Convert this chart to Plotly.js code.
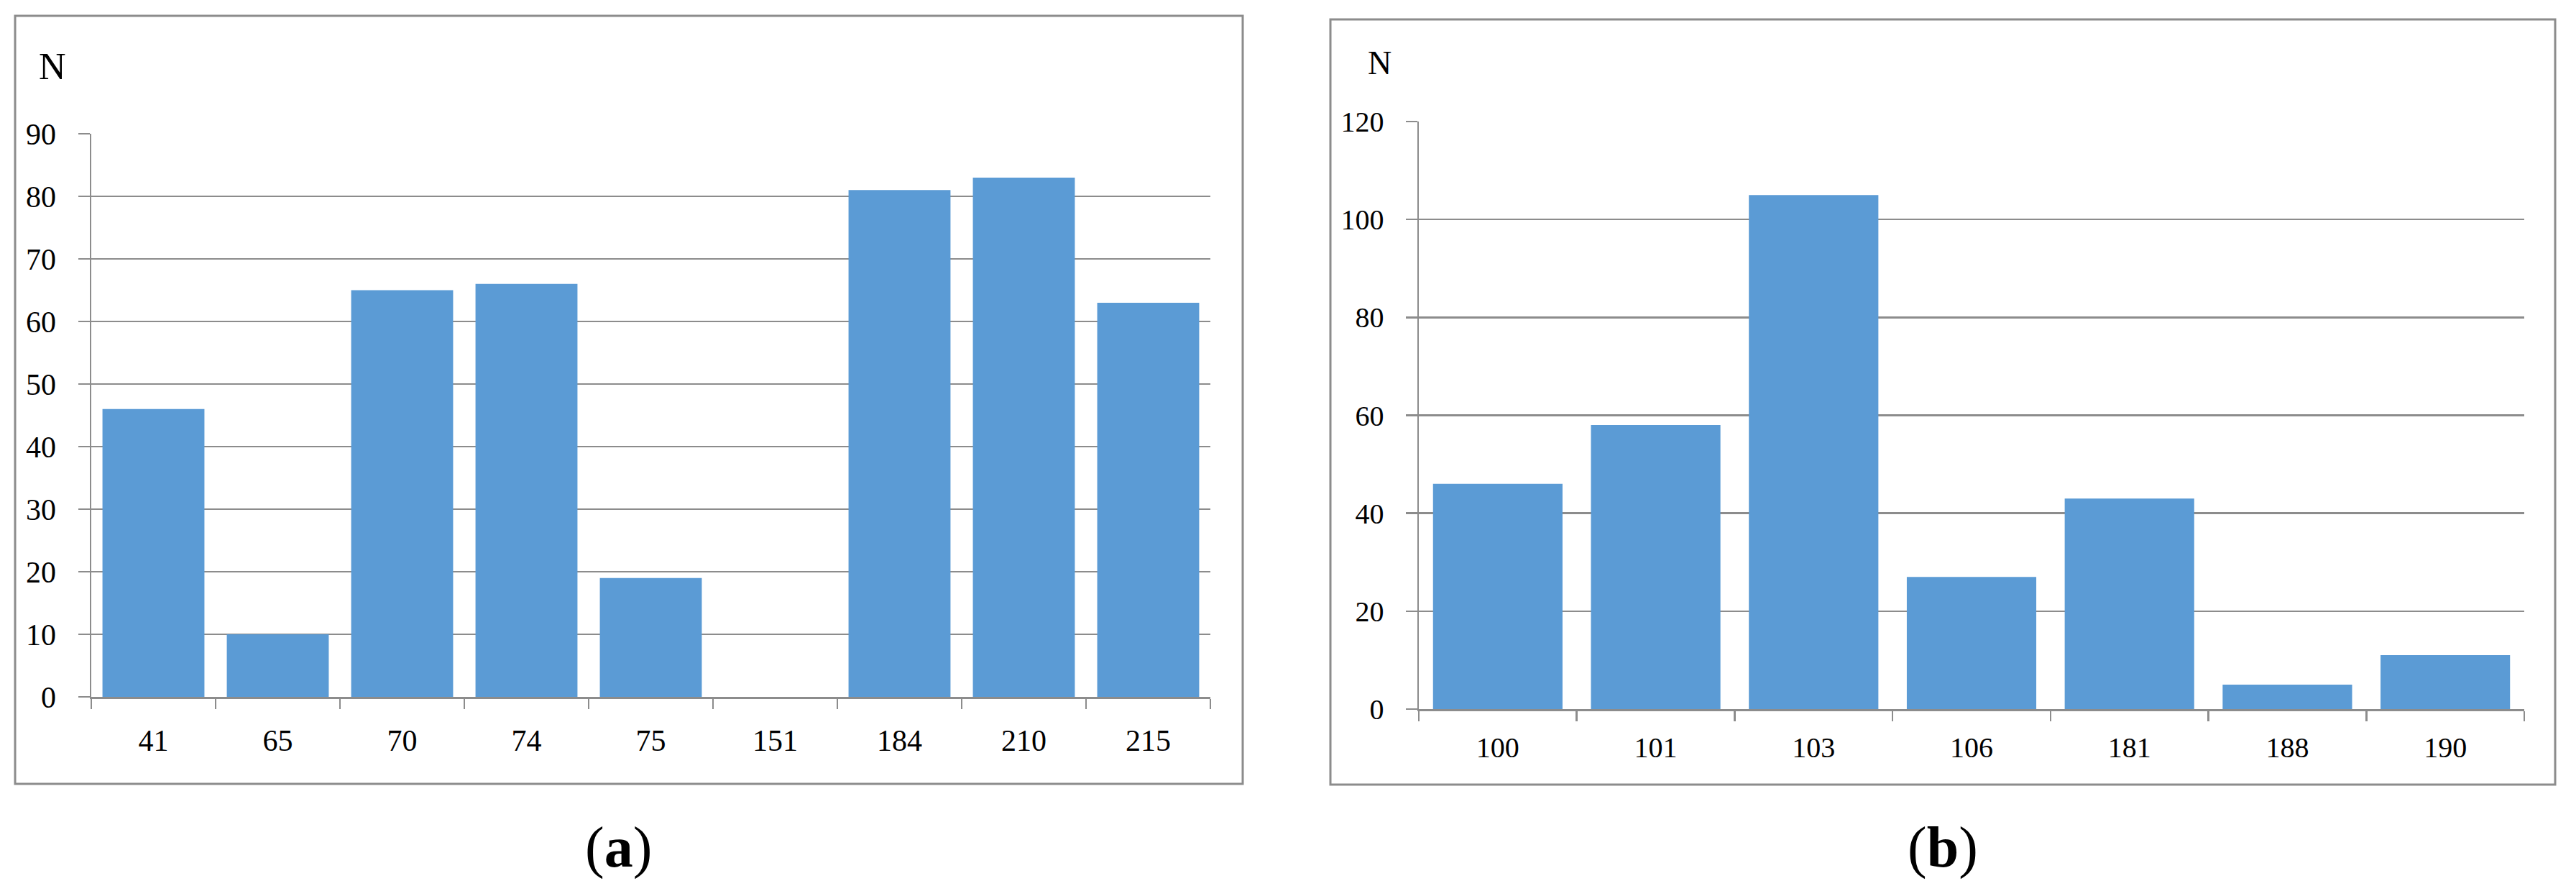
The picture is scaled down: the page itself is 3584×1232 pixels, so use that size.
<!DOCTYPE html>
<html>
<head>
<meta charset="utf-8">
<script src="https://cdn.plot.ly/plotly-3.0.1.min.js"></script>
<style>
  html, body { margin: 0; padding: 0; background: #ffffff; }
  #chart { width: 3584px; height: 1232px; }
</style>
</head>
<body>
<div id="chart"></div>
<script>
// ---- Data ----
const catsA = ['41', '65', '70', '74', '75', '151', '184', '210', '215'];
const valsA = [46, 10, 65, 66, 19, 0, 81, 83, 63];
const catsB = ['100', '101', '103', '106', '181', '188', '190'];
const valsB = [46, 58, 105, 27, 43, 5, 11];
const rangeA = [0, 90];
const dtickA = 10;
const rangeB = [0, 120];
const dtickB = 20;
const yLabelText = 'N';
const panelLabels = ['(<b>a</b>)', '(<b>b</b>)'];

// ---- Styling ----
const W = 3584, H = 1232;
const px = x => x / W;
const py = y => 1 - y / H;
const barColor = '#5b9bd5';
const gray = '#8c8c8c';
const fontFam = '"Liberation Serif", "Times New Roman", serif';

const traces = [
  { type: 'bar', x: catsA, y: valsA, xaxis: 'x', yaxis: 'y',
    marker: { color: barColor }, hoverinfo: 'skip' },
  { type: 'bar', x: catsB, y: valsB, xaxis: 'x2', yaxis: 'y2',
    marker: { color: barColor }, hoverinfo: 'skip' }
];

function xAxis(domain, anchor, size, standoff) {
  return {
    domain: domain, anchor: anchor, type: 'category',
    showline: true, linecolor: gray, linewidth: 2.5,
    ticks: 'outside', tickson: 'boundaries', ticklen: 14, tickwidth: 2.5, tickcolor: gray,
    showgrid: false, zeroline: false,
    tickfont: { family: fontFam, size: size, color: '#000' },
    ticklabelstandoff: standoff
  };
}
function yAxis(domain, anchor, range, dtick, size, standoff) {
  return {
    domain: domain, anchor: anchor, range: range, dtick: dtick, tick0: 0,
    showline: true, linecolor: gray, linewidth: 2.5,
    ticks: 'outside', ticklen: 16, tickwidth: 2.5, tickcolor: gray,
    showgrid: true, gridcolor: gray, gridwidth: 2.5, zeroline: false,
    tickfont: { family: fontFam, size: size, color: '#000' },
    ticklabelstandoff: standoff
  };
}

const layout = {
  width: W, height: H,
  margin: { l: 0, r: 0, t: 0, b: 0, pad: 0 },
  paper_bgcolor: '#ffffff', plot_bgcolor: '#ffffff',
  showlegend: false,
  bargap: 0.18,
  xaxis: xAxis([px(127), px(1684)], 'y', 42, 22),
  yaxis: yAxis([py(969), py(186)], 'x', rangeA, dtickA, 42, 22),
  xaxis2: xAxis([px(1974), px(3512)], 'y2', 40, 16),
  yaxis2: yAxis([py(986), py(169)], 'x2', rangeB, dtickB, 40, 22),
  shapes: [
    { type: 'rect', xref: 'paper', yref: 'paper',
      x0: px(21), x1: px(1729), y0: py(1090), y1: py(22),
      line: { color: gray, width: 3 }, fillcolor: 'rgba(0,0,0,0)' },
    { type: 'rect', xref: 'paper', yref: 'paper',
      x0: px(1851), x1: px(3555), y0: py(1091), y1: py(27),
      line: { color: gray, width: 3 }, fillcolor: 'rgba(0,0,0,0)' }
  ],
  annotations: [
    { xref: 'paper', yref: 'paper', x: px(73), y: py(92), text: yLabelText,
      showarrow: false, xanchor: 'center', yanchor: 'middle',
      font: { family: fontFam, size: 52, color: '#000' } },
    { xref: 'paper', yref: 'paper', x: px(1919), y: py(88), text: yLabelText,
      showarrow: false, xanchor: 'center', yanchor: 'middle',
      font: { family: fontFam, size: 46, color: '#000' } },
    { xref: 'paper', yref: 'paper', x: px(860), y: py(1178), text: panelLabels[0],
      showarrow: false, xanchor: 'center', yanchor: 'middle',
      font: { family: fontFam, size: 80, color: '#000' } },
    { xref: 'paper', yref: 'paper', x: px(2703), y: py(1178), text: panelLabels[1],
      showarrow: false, xanchor: 'center', yanchor: 'middle',
      font: { family: fontFam, size: 80, color: '#000' } }
  ]
};

Plotly.newPlot('chart', traces, layout, { displayModeBar: false, staticPlot: true });
</script>
</body>
</html>
